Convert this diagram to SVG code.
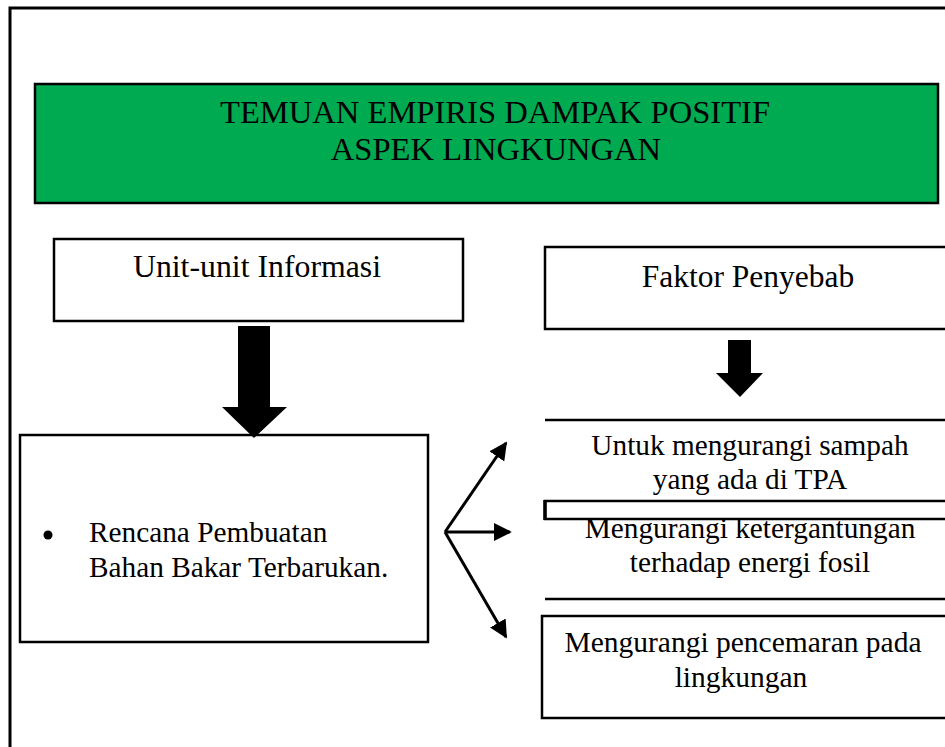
<svg xmlns="http://www.w3.org/2000/svg" width="945" height="747" viewBox="0 0 945 747">
<style>
.t{font-family:"Liberation Serif","Times New Roman",serif;fill:#000;}
.b{fill:#fff;stroke:#000;stroke-width:2.5;}
.ln{stroke:#000;stroke-width:2.5;fill:none;}
.conn{stroke:#000;stroke-width:3;fill:none;}
</style>
<defs>
<marker id="ah" viewBox="0 0 10 10" refX="9" refY="5" markerWidth="6" markerHeight="6" orient="auto" markerUnits="strokeWidth">
<path d="M0,0 L10,5 L0,10 z" fill="#000"/>
</marker>
</defs>
<rect width="945" height="747" fill="#fff"/>
<g id="frame"><rect x="10" y="8" width="950" height="760" fill="none" stroke="#000" stroke-width="3"/></g>
<g id="title">
<rect x="35" y="84" width="903" height="119" fill="#00aa50" stroke="#000" stroke-width="2.5"/>
<text class="t" x="495" y="123" font-size="32.6" text-anchor="middle">TEMUAN EMPIRIS DAMPAK POSITIF</text>
<text class="t" x="496" y="160" font-size="32.6" text-anchor="middle">ASPEK LINGKUNGAN</text>
</g>
<g id="unit">
<rect class="b" x="54" y="239" width="409" height="82"/>
<text class="t" x="257" y="277" font-size="31.8" text-anchor="middle">Unit-unit Informasi</text>
</g>
<g id="faktor">
<rect class="b" x="545" y="247" width="420" height="82"/>
<text class="t" x="748" y="287" font-size="31.5" text-anchor="middle">Faktor Penyebab</text>
</g>
<g id="rencana">
<rect class="b" x="20" y="435" width="408" height="207"/>
<circle cx="48" cy="535" r="4.5" fill="#000"/>
<text class="t" x="89" y="542" font-size="29.3">Rencana Pembuatan</text>
<text class="t" x="89" y="577" font-size="29.3">Bahan Bakar Terbarukan.</text>
</g>
<g id="sampah">
<line class="ln" x1="545" y1="420" x2="945" y2="420"/>
<text class="t" x="750" y="455" font-size="29.3" text-anchor="middle">Untuk mengurangi sampah</text>
<text class="t" x="750" y="489" font-size="29.3" text-anchor="middle">yang ada di TPA</text>
</g>
<g id="fosil">
<rect class="b" x="545" y="501" width="420" height="18"/>
<line x1="545" y1="500" x2="545" y2="520" stroke="#000" stroke-width="3.5"/>
<text class="t" x="750" y="538" font-size="29.3" text-anchor="middle">Mengurangi ketergantungan</text>
<text class="t" x="750" y="572" font-size="29.3" text-anchor="middle">terhadap energi fosil</text>
<line class="ln" x1="545" y1="599" x2="945" y2="599"/>
</g>
<g id="pencemaran">
<rect class="b" x="542" y="616" width="420" height="102"/>
<text class="t" x="743" y="652" font-size="29.5" text-anchor="middle">Mengurangi pencemaran pada</text>
<text class="t" x="741" y="687" font-size="29.5" text-anchor="middle">lingkungan</text>
</g>
<g id="connectors">
<polygon points="238,326 270,326 270,407 287,407 254,438 222,407 238,407" fill="#000"/>
<polygon points="728,340 751,340 751,373 763,373 740,397 716,373 728,373" fill="#000"/>
<line class="conn" x1="445" y1="532" x2="506" y2="443" marker-end="url(#ah)"/>
<line class="conn" x1="445" y1="532" x2="510" y2="532" marker-end="url(#ah)"/>
<line class="conn" x1="445" y1="532" x2="506" y2="637" marker-end="url(#ah)"/>
</g>
</svg>
